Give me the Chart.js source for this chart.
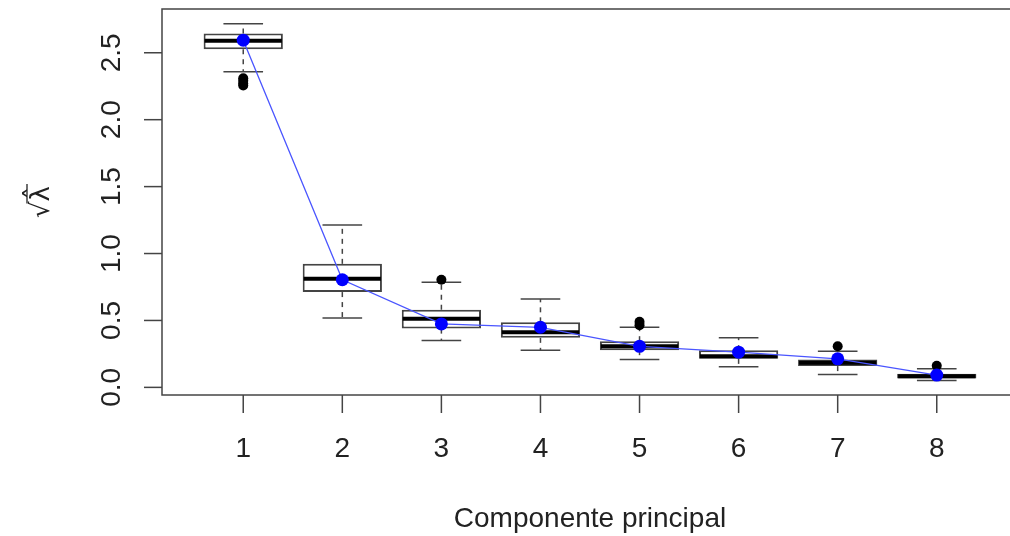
<!DOCTYPE html>
<html><head><meta charset="utf-8">
<script src="https://cdn.jsdelivr.net/npm/chart.js@4"></script>
<style>
html,body{margin:0;padding:0;background:#fff;overflow:hidden}
#wrap{width:1010px;height:536px;overflow:hidden;position:relative;background:#fff}
canvas{display:block}
</style>
</head><body>
<div id="wrap"><canvas id="c" width="1030" height="536" style="width:1030px;height:536px"></canvas></div>
<script>
const categories = [1, 2, 3, 4, 5, 6, 7, 8];
const xTickLabels = ['1', '2', '3', '4', '5', '6', '7', '8'];
const yTicks = [0, 0.5, 1, 1.5, 2, 2.5];
const yTickLabels = ['0.0', '0.5', '1.0', '1.5', '2.0', '2.5'];
const lowerWhisker = [2.359, 0.518, 0.350, 0.278, 0.208, 0.154, 0.097, 0.052];
const q1 = [2.527, 0.712, 0.439, 0.370, 0.278, 0.213, 0.159, 0.067];
const median = [2.589, 0.811, 0.513, 0.412, 0.307, 0.233, 0.184, 0.084];
const q3 = [2.644, 0.923, 0.580, 0.486, 0.345, 0.278, 0.208, 0.102];
const upperWhisker = [2.716, 1.213, 0.786, 0.660, 0.449, 0.370, 0.270, 0.139];
const means = [2.594, 0.804, 0.474, 0.449, 0.307, 0.263, 0.213, 0.092];
const outlierX = [1, 1, 1, 1, 3, 5, 5, 7, 8];
const outlierY = [2.31, 2.29, 2.27, 2.255, 0.804, 0.49, 0.465, 0.307, 0.162];
const xTitle = 'Componente principal';
const yTitle = '\u221A\u03BB\u0302';

const FONT = '"Liberation Sans", Arial, Helvetica, sans-serif';

const boxPlugin = {
  id: 'boxes',
  afterDatasetDraw(chart, args) {
    if (args.index !== 0) return;
    const ctx = chart.ctx, x = chart.scales.x, y = chart.scales.y;
    const seg = (a, b, c, d) => { ctx.beginPath(); ctx.moveTo(a, b); ctx.lineTo(c, d); ctx.stroke(); };
    ctx.save();
    categories.forEach((c, i) => {
      const px = x.getPixelForValue(c);
      const capL = x.getPixelForValue(c - 0.2), capR = x.getPixelForValue(c + 0.2);
      const boxL = x.getPixelForValue(c - 0.4), boxR = x.getPixelForValue(c + 0.4);
      ctx.strokeStyle = '#444';
      ctx.lineWidth = 1.5;
      ctx.setLineDash([5, 5]);
      seg(px, y.getPixelForValue(q3[i]), px, y.getPixelForValue(upperWhisker[i]));
      seg(px, y.getPixelForValue(q1[i]), px, y.getPixelForValue(lowerWhisker[i]));
      ctx.setLineDash([]);
      seg(capL, y.getPixelForValue(upperWhisker[i]), capR, y.getPixelForValue(upperWhisker[i]));
      seg(capL, y.getPixelForValue(lowerWhisker[i]), capR, y.getPixelForValue(lowerWhisker[i]));
      ctx.strokeStyle = '#000';
      ctx.lineWidth = 4;
      seg(boxL + 1, y.getPixelForValue(median[i]), boxR - 1, y.getPixelForValue(median[i]));
    });
    ctx.restore();
  }
};

const axesPlugin = {
  id: 'axesR',
  beforeDatasetsDraw(chart) {
    const ctx = chart.ctx, x = chart.scales.x, y = chart.scales.y, a = chart.chartArea;
    ctx.save();
    ctx.strokeStyle = '#444';
    ctx.lineWidth = 1.5;
    ctx.strokeRect(a.left, a.top, a.right - a.left, a.bottom - a.top);
    ctx.fillStyle = '#222';
    ctx.font = '28px ' + FONT;
    ctx.textAlign = 'center';
    ctx.textBaseline = 'middle';
    categories.forEach((c, i) => {
      const px = x.getPixelForValue(c);
      ctx.beginPath(); ctx.moveTo(px, a.bottom); ctx.lineTo(px, a.bottom + 18); ctx.stroke();
      ctx.fillText(xTickLabels[i], px, a.bottom + 54);
    });
    yTicks.forEach((v, i) => {
      const py = y.getPixelForValue(v);
      ctx.beginPath(); ctx.moveTo(a.left, py); ctx.lineTo(a.left - 18, py); ctx.stroke();
      ctx.save();
      ctx.translate(a.left - 50, py);
      ctx.rotate(-Math.PI / 2);
      ctx.fillText(yTickLabels[i], 0, 0);
      ctx.restore();
    });
    ctx.fillText(xTitle, x.getPixelForValue(4.5), a.bottom + 124);
    ctx.save();
    ctx.translate(40, (a.top + a.bottom) / 2);
    ctx.rotate(-Math.PI / 2);
    ctx.font = '26px "DejaVu Sans", ' + FONT;
    const w = ctx.measureText(yTitle).width;
    const wr = ctx.measureText('\u221A').width;
    ctx.fillText(yTitle, 0, 2);
    ctx.lineWidth = 1.3;
    ctx.strokeStyle = '#222';
    ctx.beginPath();
    ctx.moveTo(-w / 2 + wr - 2, -13);
    ctx.lineTo(w / 2 + 2, -13);
    ctx.stroke();
    ctx.restore();
    ctx.restore();
  }
};

new Chart(document.getElementById('c'), {
  type: 'bar',
  data: {
    datasets: [
      {
        type: 'bar',
        data: categories.map((c, i) => ({ x: c, y: [q1[i], q3[i]] })),
        backgroundColor: '#ffffff',
        borderColor: '#444',
        borderWidth: 2,
        borderSkipped: false,
        categoryPercentage: 0.8,
        barPercentage: 1,
        order: 3
      },
      {
        type: 'scatter',
        data: outlierX.map((c, i) => ({ x: c, y: outlierY[i] })),
        pointRadius: 5,
        pointBackgroundColor: '#000',
        pointBorderColor: '#000',
        pointBorderWidth: 0,
        showLine: false,
        order: 2
      },
      {
        type: 'line',
        data: categories.map((c, i) => ({ x: c, y: means[i] })),
        borderColor: '#4a55ff',
        borderWidth: 1.3,
        pointRadius: 6.5,
        pointBackgroundColor: '#0000ff',
        pointBorderColor: '#0000ff',
        pointBorderWidth: 0,
        tension: 0,
        fill: false,
        order: 1
      }
    ]
  },
  options: {
    responsive: false,
    animation: false,
    events: [],
    layout: { padding: { left: 162, top: 9, right: 12, bottom: 141 } },
    plugins: { legend: { display: false }, tooltip: { enabled: false }, title: { display: false } },
    scales: {
      x: {
        type: 'linear', min: 0.18, max: 8.82, display: false, offset: false,
        afterBuildTicks: s => { s.ticks = categories.map(v => ({ value: v })); }
      },
      y: {
        type: 'linear', min: -0.057, max: 2.827, display: false,
        afterBuildTicks: s => { s.ticks = yTicks.map(v => ({ value: v })); }
      }
    }
  },
  plugins: [axesPlugin, boxPlugin]
});
</script>
</body></html>
